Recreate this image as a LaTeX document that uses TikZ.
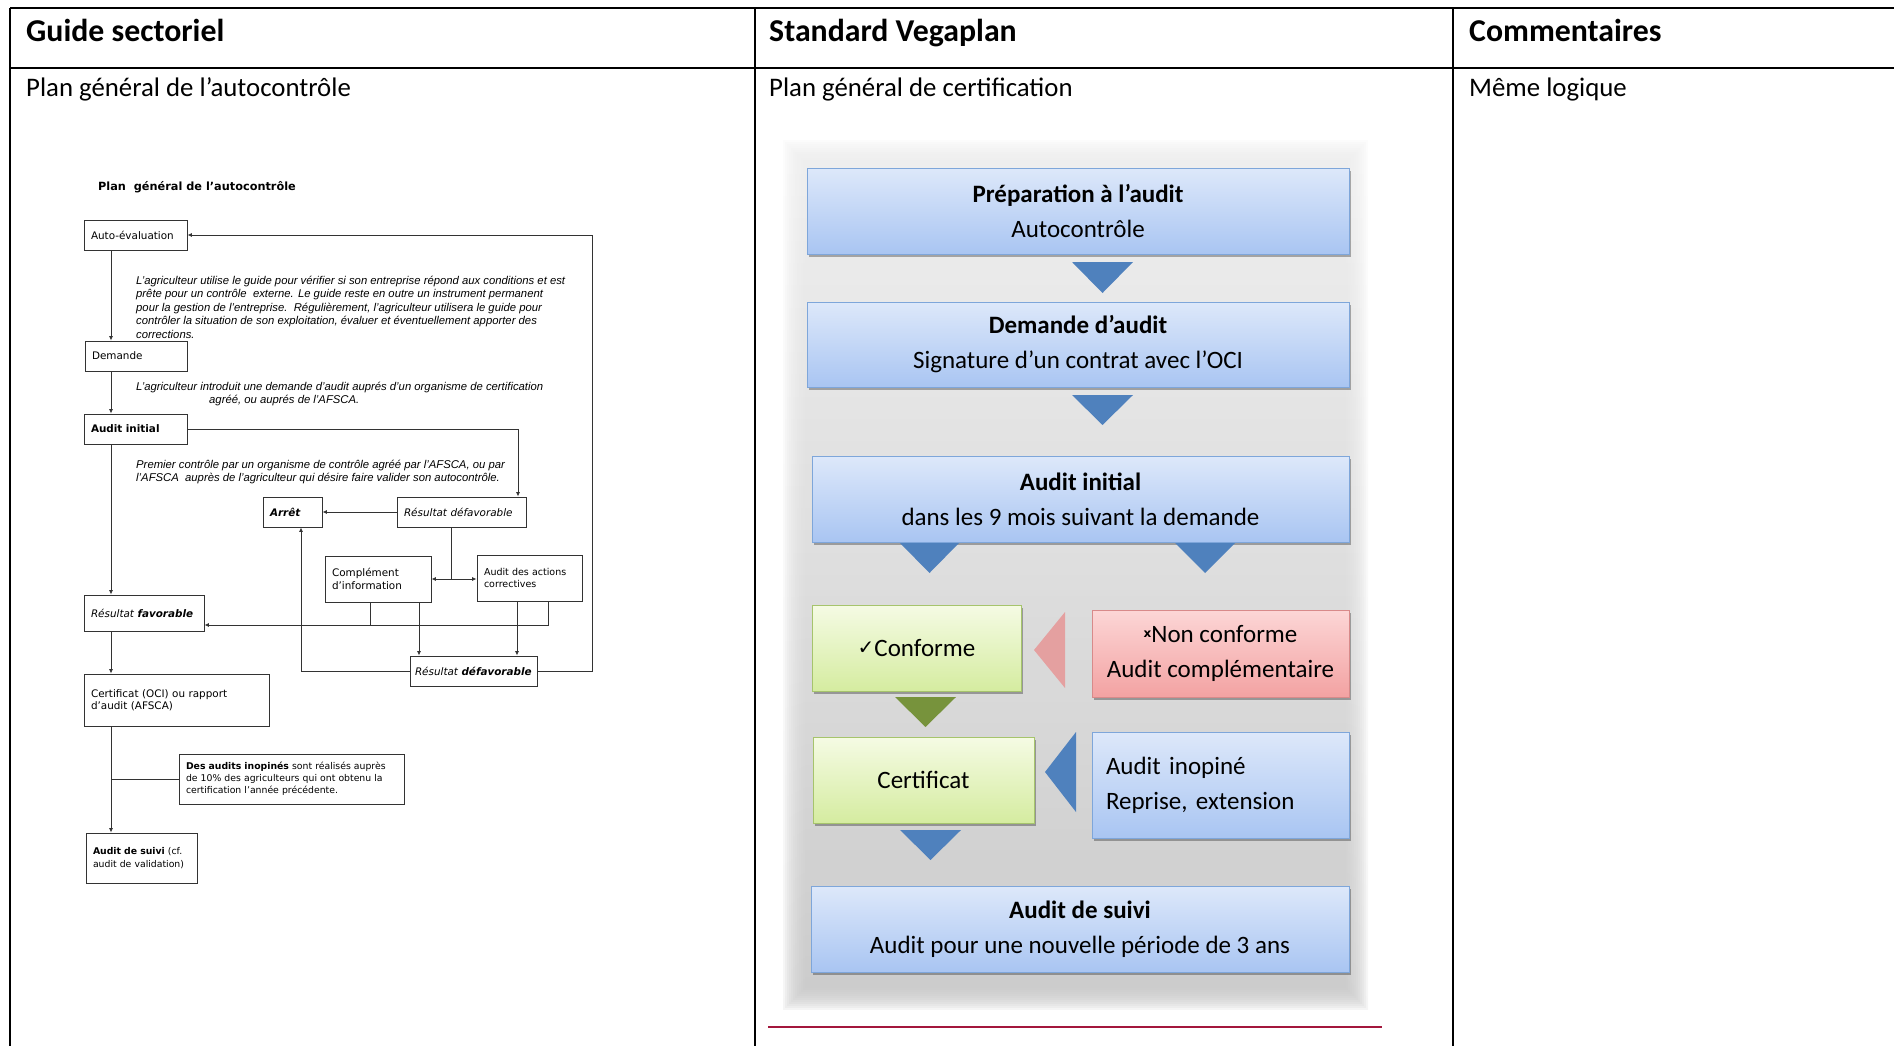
\documentclass[tikz,border=0pt]{standalone}
\usepackage{fontspec}
\setmainfont{Carlito}
\newfontfamily\dv{DejaVu Sans}
\newfontfamily\ls{Liberation Sans}
\usetikzlibrary{arrows.meta,shadows}
\definecolor{bluetop}{HTML}{DDE8FA}
\definecolor{bluebot}{HTML}{A9C5F2}
\definecolor{blueborder}{HTML}{7EA6DA}
\definecolor{greentop}{HTML}{F5FBE4}
\definecolor{greenbot}{HTML}{D5ECA0}
\definecolor{greenborder}{HTML}{A6C46C}
\definecolor{redtop}{HTML}{FCD6D6}
\definecolor{redbot}{HTML}{F3A2A2}
\definecolor{redborder}{HTML}{D88A8A}
\definecolor{triblue}{HTML}{4F81BD}
\definecolor{trigreen}{HTML}{77933C}
\definecolor{trired}{HTML}{E4A0A0}
\definecolor{bgtop}{HTML}{EDEDED}
\definecolor{bgbot}{HTML}{C6C6C6}
\definecolor{redline}{HTML}{A3173C}
\definecolor{lgray}{HTML}{333333}
\begin{document}
\begin{tikzpicture}[x=1pt,y=-1pt,
  tline/.style={line width=2pt,black},
  hdr/.style={anchor=base west,inner sep=0,font=\bfseries\fontsize{31.8}{36}\selectfont},
  bdy/.style={anchor=base west,inner sep=0,font=\fontsize{26.8}{30}\selectfont},
  lbox/.style={draw=lgray,line width=0.9pt,inner xsep=7pt,inner ysep=0pt,align=left,
    font=\dv\fontsize{10.4}{12.5}\selectfont},
  lline/.style={draw=lgray,line width=0.8pt},
  arr/.style={lline,-{Latex[length=4.5pt,width=4pt]}},
  ptext/.style={anchor=north west,inner sep=0,align=left,
    font=\ls\itshape\fontsize{11.3}{13.4}\selectfont},
  mbox/.style={draw=#1border,line width=1pt,top color=#1top,bottom color=#1bot,
    inner sep=0,align=center,font=\fontsize{25}{35}\selectfont,
    drop shadow={shadow xshift=1.5pt,shadow yshift=-3pt,fill=black,opacity=0.3}}
]
\useasboundingbox (0,0) rectangle (1894,1046);
% ---------- table ----------
\draw[tline] (10,8) -- (1894,8);
\draw[tline] (10,68) -- (1894,68);
\draw[tline] (10,8) -- (10,1046);
\draw[tline] (755,8) -- (755,1046);
\draw[tline] (1453,8) -- (1453,1046);
\node[hdr] (h1) at (26,42) {Guide sectoriel};
\node[hdr] (h2) at (769,42) {Standard Vegaplan};
\node[hdr] (h3) at (1469,42) {Commentaires};
\node[bdy] (b1) at (26,97) {Plan général de l’autocontrôle};
\node[bdy] (b2) at (769,97) {Plan général de certification};
\node[bdy] (b3) at (1469,97) {Même logique};
% ---------- left diagram ----------
\node[anchor=west,inner sep=0,font=\dv\bfseries\fontsize{11.3}{13}\selectfont] (ltitle) at (98,187) {Plan\ \ général de l’autocontrôle};
\node[lbox,minimum width=103pt,minimum height=30pt,text width=89pt] (autoeval) at (135.5,235) {\mbox{Auto-évaluation}};
\node[lbox,minimum width=102pt,minimum height=30pt,text width=88pt] (demande) at (136,356) {Demande};
\node[lbox,minimum width=103pt,minimum height=30pt,text width=89pt] (auditinit) at (135.5,429) {\bfseries Audit initial};
\node[lbox,minimum width=59pt,minimum height=30pt,text width=45pt] (arret) at (292.5,512) {\bfseries\itshape Arrêt};
\node[lbox,minimum width=129pt,minimum height=30pt,text width=115pt] (resdef1) at (461.5,512) {\mbox{\itshape Résultat défavorable}};
\node[lbox,minimum width=106pt,minimum height=46pt,text width=92pt] (compl) at (378,579) {Complément\\d’information};
\node[lbox,minimum width=105pt,minimum height=46pt,text width=91pt,font=\dv\fontsize{9.5}{11.5}\selectfont] (auditact) at (529.5,578) {Audit des actions\\correctives};
\node[lbox,minimum width=120pt,minimum height=36pt,text width=106pt] (resfav) at (144,613) {\mbox{\itshape Résultat \bfseries favorable}};
\node[lbox,minimum width=127pt,minimum height=30pt,inner xsep=5pt,text width=117pt] (resdef2) at (473.5,671) {\mbox{\itshape Résultat \bfseries défavorable}};
\node[lbox,minimum width=185pt,minimum height=52pt,text width=171pt] (certif) at (176.5,700) {Certificat (OCI) ou rapport\\d’audit (AFSCA)};
\node[lbox,minimum width=225pt,minimum height=50pt,text width=211pt,font=\dv\fontsize{9.3}{12}\selectfont] (inopines) at (291.5,779) {\textbf{Des audits inopinés} sont réalisés auprès\\de 10\% des agriculteurs qui ont obtenu la\\certification l’année précédente.};
\node[lbox,minimum width=111pt,minimum height=50pt,text width=97pt,font=\dv\fontsize{9.3}{12.5}\selectfont] (suivi) at (141.5,858) {\textbf{Audit de suivi} (cf.\\audit de validation)};
\node[ptext] (p1) at (136,276) {L’agriculteur utilise le guide pour vérifier si son entreprise répond aux conditions et est\\prête pour un contrôle\ \ externe. Le guide reste en outre un instrument permanent\\pour la gestion de l’entreprise.\ \ Régulièrement, l’agriculteur utilisera le guide pour\\contrôler la situation de son exploitation, évaluer et éventuellement apporter des\\corrections.};
\node[ptext] (p2) at (136,382) {L’agriculteur introduit une demande d’audit auprés d’un organisme de certification\\\hspace*{73pt}agréé, ou auprés de l’AFSCA.};
\node[ptext] (p3) at (136,460) {Premier contrôle par un organisme de contrôle agréé par l’AFSCA, ou par\\l’AFSCA\ \ auprès de l’agriculteur qui désire faire valider son autocontrôle.};
\coordinate (lx) at (111,0);
\coordinate (c1) at (518,0);
\coordinate (c2) at (451,579);
\coordinate (c3) at (370,0);
\coordinate (c4) at (548.6,0);
\coordinate (c5) at (419,0);
\coordinate (c6) at (517,0);
\coordinate (c7) at (301,0);
\coordinate (c8) at (592,0);
\coordinate (hl) at (0,625);
\draw[arr] (autoeval.south -| lx) -- (demande.north -| lx);
\draw[arr] (demande.south -| lx) -- (auditinit.north -| lx);
\draw[arr] (auditinit.south -| lx) -- (resfav.north -| lx);
\draw[arr] (resfav.south -| lx) -- (certif.north -| lx);
\draw[arr] (certif.south -| lx) -- (suivi.north -| lx);
\draw[lline] (lx |- inopines.west) -- (inopines.west);
\draw[arr] (auditinit.east) -| (c1 |- resdef1.north);
\draw[arr] (resdef1.west) -- (arret.east);
\draw[lline] (c2 |- resdef1.south) -- (c2);
\draw[arr] (c2) -- (compl.east);
\draw[arr] (c2) -- (c2 -| auditact.west);
\draw[lline] (c3 |- compl.south) -- (c3 |- hl);
\draw[arr] (c4 |- auditact.south) -- (c4 |- hl) -- (resfav.east |- hl);
\draw[arr] (c5 |- compl.south) -- (c5 |- resdef2.north);
\draw[arr] (c6 |- auditact.south) -- (c6 |- resdef2.north);
\draw[arr] (resdef2.west) -| (c7 |- arret.south);
\draw[arr] (resdef2.east) -| (c8 |- autoeval.east) -- (autoeval.east);
% ---------- middle diagram ----------
\foreach \i in {0,...,11} {
  \shade[top color=bgtop,bottom color=bgbot,opacity=0.17]
    ({783+2*\i},{140+2*\i}) rectangle ({1368-2*\i},{1009-2*\i});
}
\node[mbox=blue,minimum width=542pt,minimum height=86pt] (prep) at (1078,211) {\textbf{Préparation à l’audit}\\Autocontrôle};
\node[mbox=blue,minimum width=542pt,minimum height=85pt] (dem) at (1078,344.5) {\textbf{Demande d’audit}\\Signature d’un contrat avec l’OCI};
\node[mbox=blue,minimum width=537pt,minimum height=86pt] (init) at (1080.5,499) {\textbf{Audit initial}\\dans les 9 mois suivant la demande};
\node[mbox=green,minimum width=209pt,minimum height=86pt] (conf) at (916.5,648) {\raisebox{2pt}{\dv\fontsize{20}{20}\selectfont ✓}Conforme};
\node[mbox=red,minimum width=257pt,minimum height=87pt] (nonconf) at (1220.5,653.5) {\raisebox{5pt}{\dv\bfseries\fontsize{12}{12}\selectfont x}Non conforme\\Audit complémentaire};
\node[mbox=green,minimum width=221pt,minimum height=86pt] (cert) at (923.5,780) {Certificat};
\node[mbox=blue,minimum width=257pt,minimum height=106pt,inner xsep=14pt,text width=229pt,align=left] (inop) at (1220.5,785) {\mbox{Audit inopiné}\\\mbox{Reprise, extension}};
\node[mbox=blue,minimum width=538pt,minimum height=86pt] (msuivi) at (1080,929) {\textbf{Audit de suivi}\\Audit pour une nouvelle période de 3 ans};
\fill[triblue] (1072,262) -- (1133,262) -- (1102.5,293) -- cycle;
\fill[triblue] (1072,395) -- (1133,395) -- (1102.5,425) -- cycle;
\fill[triblue] (900,543) -- (959,543) -- (929.5,573) -- cycle;
\fill[triblue] (1175,543) -- (1235,543) -- (1205,573) -- cycle;
\fill[trired] (1065,612) -- (1065,688) -- (1034,650) -- cycle;
\fill[trigreen] (895,697) -- (956,697) -- (925.5,727) -- cycle;
\fill[triblue] (1076,732) -- (1076,812) -- (1045,772) -- cycle;
\fill[triblue] (900,830) -- (961,830) -- (930.5,860) -- cycle;
\draw[redline,line width=2pt] (768,1027) -- (1382,1027);
\end{tikzpicture}
\end{document}
